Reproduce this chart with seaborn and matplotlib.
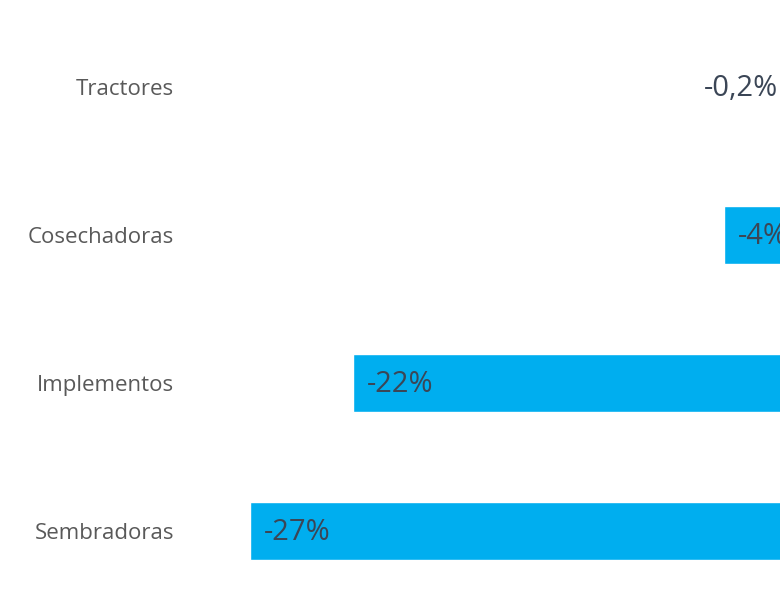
import matplotlib
matplotlib.use("Agg")
import matplotlib.pyplot as plt
import seaborn as sns
import pandas as pd

categories = ["Tractores", "Cosechadoras", "Implementos", "Sembradoras"]
values = [-0.2, -4, -22, -27]
value_labels = ["-0,2%", "-4%", "-22%", "-27%"]

sns.set_theme(style="white")
plt.rcParams['font.family'] = ['Open Sans', 'DejaVu Sans']

df = pd.DataFrame({"cat": categories, "val": values})

fig = plt.figure(figsize=(7.8, 6), dpi=100)
# the zero line lies just beyond the right edge of the picture
ax = fig.add_axes([188 / 780, 0, 618 / 780, 1])
sns.barplot(data=df, x="val", y="cat", orient="h", color="#00AEEF",
            width=0.39, saturation=1, ax=ax)
ax.set_xlim(-30, 0)
ax.set_ylim(3.466, -0.588)
for s in ax.spines.values():
    s.set_visible(False)
ax.set_xticks([])
ax.set_xlabel("")
ax.set_ylabel("")
ax.tick_params(axis="y", length=0, pad=10, labelsize=16, labelcolor="#595959")

for i, (v, lab) in enumerate(zip(values, value_labels)):
    if abs(v) < 1:
        ax.annotate(lab, (v, i), xytext=(-17, -1), textcoords="offset points",
                    ha="right", va="center", fontsize=21, color="#3b4656",
                    annotation_clip=False)
    else:
        ax.annotate(lab, (v, i), xytext=(10, -1), textcoords="offset points",
                    ha="left", va="center", fontsize=21, color="#3b4656",
                    annotation_clip=False)

fig.savefig("out.png", dpi=100)
